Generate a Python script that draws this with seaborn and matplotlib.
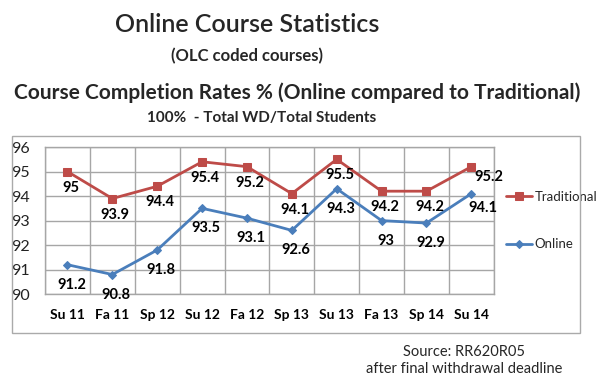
import matplotlib
matplotlib.use("Agg")
import matplotlib.pyplot as plt
import numpy as np
import pandas as pd
import seaborn as sns
from matplotlib.patches import Rectangle

# data
terms = ["Su 11", "Fa 11", "Sp 12", "Su 12", "Fa 12", "Sp 13", "Su 13", "Fa 13", "Sp 14", "Su 14"]
traditional = [95, 93.9, 94.4, 95.4, 95.2, 94.1, 95.5, 94.2, 94.2, 95.2]
online = [91.2, 90.8, 91.8, 93.5, 93.1, 92.6, 94.3, 93, 92.9, 94.1]
y_ticks = [90, 91, 92, 93, 94, 95, 96]

red = "#BE4B48"
blue = "#4A7EBB"
grid_col = "#A6A6A6"

sns.set_style("white")
plt.rcParams["font.family"] = ["Lato", "DejaVu Sans"]

df = pd.DataFrame({"term": terms, "Traditional": traditional, "Online": online})
df["pos"] = np.arange(len(terms))

fig = plt.figure(figsize=(6.0, 3.86), dpi=100)
ax = fig.add_axes([0.075, 0.238, 0.748, 0.381])

sns.lineplot(data=df, x="pos", y="Traditional", ax=ax, color=red, marker="s",
             markersize=6, markeredgecolor=red, linewidth=2, label="Traditional")
sns.lineplot(data=df, x="pos", y="Online", ax=ax, color=blue, marker="D",
             markersize=4.5, markeredgecolor=blue, linewidth=2, label="Online")

# data labels
for i, v in enumerate(traditional):
    dx, dy = (3, -16)
    if i == len(terms) - 1:
        dx, dy = (17, -10)
    ax.annotate(f"{v:g}", (i, v), xytext=(dx, dy), textcoords="offset pixels",
                ha="center", va="center", fontsize=10.5, fontweight="bold", color="black")
for i, v in enumerate(online):
    dx, dy = (4, -20)
    if i == len(terms) - 1:
        dx, dy = (12, -14)
    ax.annotate(f"{v:g}", (i, v), xytext=(dx, dy), textcoords="offset pixels",
                ha="center", va="center", fontsize=10.5, fontweight="bold", color="black")

ax.set_xlim(-0.5, len(terms) - 0.5)
ax.set_ylim(90, 96)
ax.set_yticks(y_ticks)
ax.set_yticklabels([str(t) for t in y_ticks], fontsize=11.5, color="#222222")
ax.set_xticks(np.arange(len(terms)))
ax.set_xticklabels(terms, fontsize=10, fontweight="bold", color="black")
ax.set_xticks(np.arange(-0.5, len(terms)), minor=True)
ax.tick_params(axis="x", which="major", length=0, pad=11)
ax.tick_params(axis="x", which="minor", length=5, color=grid_col, width=1)
ax.tick_params(axis="y", length=5, color=grid_col, width=1, pad=6)
ax.grid(True, axis="y", color=grid_col, linewidth=1)
ax.grid(True, axis="x", which="minor", color=grid_col, linewidth=1)
ax.set_axisbelow(True)
for s in ax.spines.values():
    s.set_color(grid_col)
    s.set_linewidth(1)
ax.set_xlabel("")
ax.set_ylabel("")

ax.legend(loc="center left", bbox_to_anchor=(1.0, 0.5), frameon=False,
          fontsize=9.5, labelspacing=2.7, handlelength=2.0, handletextpad=0.2)

# outer chart frame
fig.patches.append(Rectangle((12 / 600, 1 - 333 / 386), 568 / 600, 197 / 386,
                             transform=fig.transFigure, fill=False,
                             edgecolor="#AAAAAA", linewidth=1))

fig.text(247 / 600, 1 - 25 / 386, "Online Course Statistics", ha="center", va="center",
         fontsize=18, fontweight="semibold")
fig.text(247 / 600, 1 - 56 / 386, "(OLC coded courses)", ha="center", va="center",
         fontsize=12, fontweight="bold")
fig.text(297 / 600, 1 - 93 / 386, "Course Completion Rates % (Online compared to Traditional)",
         ha="center", va="center", fontsize=15, fontweight="bold")
fig.text(262 / 600, 1 - 118 / 386, "100%  - Total WD/Total Students", ha="center",
         va="center", fontsize=11, fontweight="bold")
fig.text(464 / 600, 1 - 352 / 386, "Source: RR620R05", ha="center", va="center",
         fontsize=10.5)
fig.text(464 / 600, 1 - 369 / 386, "after final withdrawal deadline", ha="center",
         va="center", fontsize=10.5)

fig.savefig("out.png", dpi=100)
